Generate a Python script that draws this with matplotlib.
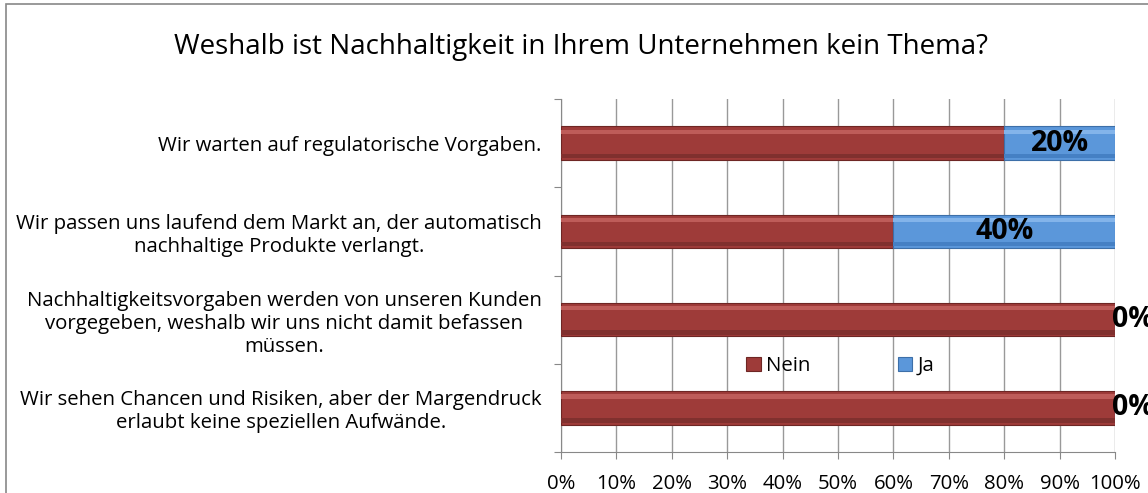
import matplotlib.pyplot as plt
from matplotlib.patches import Rectangle
import numpy as np

plt.rcParams['font.family'] = ['Open Sans', 'DejaVu Sans']

title = 'Weshalb ist Nachhaltigkeit in Ihrem Unternehmen kein Thema?'
categories = ['Wir warten auf regulatorische Vorgaben.',
              'Wir passen uns laufend dem Markt an, der automatisch\nnachhaltige Produkte verlangt.',
              'Nachhaltigkeitsvorgaben werden von unseren Kunden\nvorgegeben, weshalb wir uns nicht damit befassen\nmüssen.',
              'Wir sehen Chancen und Risiken, aber der Margendruck\nerlaubt keine speziellen Aufwände.']
nein = [80, 60, 100, 100]
ja = [20, 40, 0, 0]
series_names = ['Nein', 'Ja']
xticks = [0, 10, 20, 30, 40, 50, 60, 70, 80, 90, 100]

col_nein = '#9E3B39'
col_ja = '#5B97DA'

fig = plt.figure(figsize=(11.48, 4.93), dpi=100)
ax = fig.add_axes([0.4887, 0.0832, 0.4826, 0.7158])

y = np.arange(len(categories))
left_ja = np.array(nein)
h = 0.38
ax.barh(y, nein, height=h, color=col_nein, edgecolor='#6E2624', linewidth=0.8, label=series_names[0], zorder=3)
ax.barh(y, ja, left=left_ja, height=h, color=col_ja, edgecolor='#3D6FA8', linewidth=0.8, label=series_names[1], zorder=3)
# bevel look: light stripe near the top, dark stripe near the bottom
ax.barh(y - 0.13, nein, height=0.05, color='#BE5C59', linewidth=0, zorder=3.5)
ax.barh(y + 0.145, nein, height=0.05, color='#80302E', linewidth=0, zorder=3.5)
ax.barh(y - 0.13, ja, left=left_ja, height=0.05, color='#83B4EA', linewidth=0, zorder=3.5)
ax.barh(y + 0.145, ja, left=left_ja, height=0.05, color='#4580C4', linewidth=0, zorder=3.5)

for i in range(len(categories)):
    if ja[i] > 0:
        ax.text(nein[i] + ja[i] / 2, y[i], '%d%%' % ja[i], ha='center', va='center',
                fontsize=20.5, fontweight='bold', color='black', zorder=4, clip_on=False)
    else:
        ax.text(nein[i] - 0.5, y[i], '%d%%' % ja[i], ha='left', va='center',
                fontsize=20.5, fontweight='bold', color='black', zorder=4, clip_on=False)

ax.set_xlim(0, 100)
ax.set_ylim(len(categories) - 0.5, -0.5)
ax.set_xticks(xticks)
ax.set_xticklabels(['%d%%' % v for v in xticks], fontsize=14.7)
ax.set_yticks(np.arange(len(categories) + 1) - 0.5, minor=False)
ax.set_yticklabels([])
ax.set_yticks(y, minor=True)
ax.set_yticklabels(categories, minor=True, fontsize=14.7, ha='right', multialignment='center',
                   linespacing=1.2)
ax.tick_params(axis='y', which='minor', length=0, pad=14)
ax.tick_params(axis='y', which='major', length=5, color='#888888')
ax.tick_params(axis='x', length=5, color='#888888', pad=11)

ax.grid(axis='x', color='#999999', linewidth=1, zorder=0)
for s in ['top', 'right']:
    ax.spines[s].set_visible(False)
for s in ['left', 'bottom']:
    ax.spines[s].set_color('#888888')

ax.legend(loc='center', bbox_to_anchor=(0.504, 0.244), ncol=2, frameon=False, fontsize=14.7,
          handlelength=0.7, handleheight=0.7, columnspacing=4.3, handletextpad=0.25,
          borderpad=0)

fig.text(0.506, 0.905, title, ha='center', va='center', fontsize=20)

fig.patches.append(Rectangle((0.005, -0.1), 1.1, 1.092, transform=fig.transFigure,
                             fill=False, edgecolor='#888888', linewidth=1.2))

fig.savefig('out.png', dpi=100)
